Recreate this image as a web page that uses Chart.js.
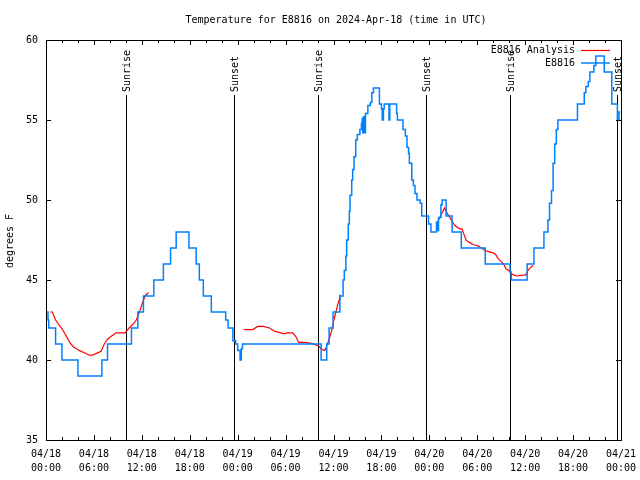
<!DOCTYPE html>
<html>
<head>
<meta charset="utf-8">
<script src="https://cdn.jsdelivr.net/npm/chart.js@4.4.1/dist/chart.umd.min.js"></script>
<style>
  html, body { margin: 0; padding: 0; background: #fff; }
  #wrap { width: 640px; height: 480px; }
</style>
</head>
<body>
<div id="wrap"><canvas id="myChart" width="640" height="480"></canvas></div>
<script>
// hours since 04/18 00:00 UTC
let obsHours=[0.1,0.25,0.35,1.2,2.0,4.0,7.0,7.7,10.7,11.5,12.2,13.5,14.7,15.6,16.3,17.9,18.8,19.2,19.7,20.7,
  22.5,22.8,23.4,23.75,24.0,24.3,24.45,24.6,34.45,35.15,35.45,35.95,36.8,37.2,37.35,37.55,37.65,37.85,37.98,
  38.07,38.28,38.4,38.57,38.78,38.98,39.3,39.5,39.6,39.65,39.75,39.85,40.0,40.3,40.6,40.8,41.0,41.75,42.0,
  42.1,42.25,42.35,42.95,43.05,43.9,44.0,44.7,45.0,45.2,45.4,45.5,45.8,46.0,46.2,46.45,46.85,47.05,47.9,48.2,
  48.9,49.05,49.15,49.45,49.6,50.1,50.85,52.0,55.0,58.1,58.25,60.25,61.1,62.35,62.85,63.05,63.3,63.5,63.7,
  63.9,64.1,66.55,67.4,67.6,67.9,68.1,68.6,68.85,69.9,70.85,71.55,71.75,71.9]
let obsTemps=[43,42.5,42,41,40,39,40,41,42,43,44,45,46,47,48,47,46,45,44,43,
  42.5,42,41.2,41,40.6,40,40.7,41,40,41,42,43,44,45,45.6,46.5,47.5,48.5,49.3,
  50.3,51.25,51.9,52.7,53.75,54.1,54.4,54.8,55.1,54.2,55.2,54.2,55.4,55.9,56.1,56.7,57,56,55.7,
  55,55.7,56,55,56,55.4,55,54.4,54,53.3,52.9,52.3,51.25,50.9,50.4,50,49.8,49,48.5,48,
  48.6,48.1,48.9,49.7,50,49,48,47,46,45.5,45,46,47,48,48.75,49.8,50.6,52.3,53.5,
  54.4,55,56,56.7,57.1,57.4,58,58.4,59,58,56,55,55.5,55.5]

let anaHours=[0.5,0.8,1.2,1.55,2.0,2.3,2.7,3.1,3.5,4.15,4.8,5.4,5.8,6.25,6.9,7.3,7.7,8.1,8.75,9.9,
  10.4,10.85,11.3,11.7,12.1,12.45,12.85,
  18,
  24.75,25.9,26.5,27.2,28.0,28.6,29.7,30.3,30.9,31.3,31.65,32.4,33.1,34.1,34.5,34.9,35.1,35.3,35.55,
  35.8,36.05,36.3,36.5,36.7,36.8,
  42,
  48.8,49.0,49.4,49.6,49.8,49.9,50.2,50.5,50.8,51.2,51.5,51.8,52.1,52.3,52.6,53.0,53.55,54.0,54.4,
  54.8,55.2,56.0,56.3,56.6,56.9,57.3,57.6,57.95,58.25,58.6,59.0,59.6,60.05,60.35,60.7,61.0]
let anaTemps=[43,43,42.5,42.25,41.95,41.7,41.35,41,40.8,40.6,40.45,40.3,40.3,40.4,40.55,41,41.3,41.45,41.7,41.7,
  42,42.2,42.5,43,43.6,44.05,44.2,
  null,
  41.9,41.9,42.1,42.1,42,41.8,41.65,41.7,41.7,41.45,41.1,41.1,41.05,40.9,40.67,40.6,40.8,41.1,41.45,
  41.9,42.5,43,43.4,43.75,44.1,
  null,
  48.6,48.6,49,49.2,49.4,49.5,49.2,48.96,48.7,48.4,48.3,48.2,48.2,47.9,47.5,47.35,47.2,47.15,47.05,
  46.9,46.8,46.7,46.6,46.35,46.2,46,45.7,45.6,45.4,45.3,45.25,45.3,45.3,45.6,45.8,45.9]

let sunriseHours=[10.0,34.05,58.1]
let sunsetHours=[23.5,47.6,71.5]

let xTickHours=[0,6,12,18,24,30,36,42,48,54,60,66,72]
let xTickDates=['04/18','04/18','04/18','04/18','04/19','04/19','04/19','04/19','04/20','04/20','04/20','04/20','04/21']
let xTickTimes=['00:00','06:00','12:00','18:00','00:00','06:00','12:00','18:00','00:00','06:00','12:00','18:00','00:00']
let yTicks=[35,40,45,50,55,60]

let titleText='Temperature for E8816 on 2024-Apr-18 (time in UTC)'
let yTitle='degrees F'
let anaName='E8816 Analysis'
let obsName='E8816'

const FONT='10px "DejaVu Sans Mono", monospace'
const BLUE='#0080ff'
const RED='#ff0000'

function pairs(xs, ys){
  let out=[]
  for(var i=0;i<xs.length;i++){
    out.push({x:xs[i], y:ys[i]})
  }
  return out
}

// gnuplot-ish frame, inward ticks, sun lines, legend, titles
const decorations = {
  id: 'decorations',
  beforeDatasetsDraw(chart){
    const c=chart.ctx
    const a=chart.chartArea
    const xs=chart.scales.x
    c.save()
    c.strokeStyle='#000'
    c.lineWidth=1
    c.fillStyle='#000'
    c.font=FONT
    const marks=[]
    sunriseHours.forEach(h=>marks.push([h,'Sunrise']))
    sunsetHours.forEach(h=>marks.push([h,'Sunset']))
    marks.forEach(m=>{
      const px=Math.round(xs.getPixelForValue(m[0]))+0.5
      c.beginPath()
      c.moveTo(px, a.top+55)
      c.lineTo(px, a.bottom)
      c.stroke()
      c.save()
      c.translate(px+1, a.top+52)
      c.rotate(-Math.PI/2)
      c.textAlign='left'
      c.textBaseline='middle'
      c.fillText(m[1],0,0)
      c.restore()
    })
    c.restore()
  },
  afterDraw(chart){
    const c=chart.ctx
    const a=chart.chartArea
    const xs=chart.scales.x
    const ys=chart.scales.y
    c.save()
    c.strokeStyle='#000'
    c.fillStyle='#000'
    c.lineWidth=1
    c.strokeRect(Math.round(a.left)+0.5, Math.round(a.top)+0.5, Math.round(a.right-a.left), Math.round(a.bottom-a.top))

    c.beginPath()
    for(var h=0;h<=72;h+=2){
      const px=Math.round(xs.getPixelForValue(h))+0.5
      const len=(h%6===0)?5:3
      c.moveTo(px,a.bottom); c.lineTo(px,a.bottom-len)
      c.moveTo(px,a.top); c.lineTo(px,a.top+len)
    }
    yTicks.forEach(v=>{
      const py=Math.round(ys.getPixelForValue(v))+0.5
      c.moveTo(a.left,py); c.lineTo(a.left+5,py)
      c.moveTo(a.right,py); c.lineTo(a.right-5,py)
    })
    c.stroke()

    c.font=FONT
    c.textBaseline='middle'
    c.textAlign='center'
    c.fillText(titleText, 336, 20)

    c.save()
    c.translate(10, 241)
    c.rotate(-Math.PI/2)
    c.fillText(yTitle,0,0)
    c.restore()

    // legend
    c.textAlign='right'
    c.fillText(anaName, 575, 50)
    c.fillText(obsName, 575, 63)
    c.strokeStyle=RED
    c.lineWidth=1.2
    c.beginPath(); c.moveTo(581,50.5); c.lineTo(610,50.5); c.stroke()
    c.strokeStyle=BLUE
    c.lineWidth=1.5
    c.beginPath(); c.moveTo(581,63); c.lineTo(610,63); c.stroke()
    c.restore()
  }
}

const ctx=document.getElementById('myChart')

let myChart=new Chart(ctx,{
  type:'line',
  data:{
    datasets:[{
      label:obsName,
      data:pairs(obsHours,obsTemps),
      borderColor:BLUE,
      borderWidth:1.5,
      pointRadius:0,
      stepped:'before',
      fill:false,
      order:1
    },{
      label:anaName,
      data:pairs(anaHours,anaTemps),
      borderColor:RED,
      borderWidth:1.2,
      pointRadius:0,
      spanGaps:false,
      fill:false,
      order:2
    }]
  },
  options:{
    responsive:false,
    animation:false,
    layout:{padding:{top:40,right:19,left:0,bottom:0}},
    plugins:{legend:{display:false},title:{display:false},tooltip:{enabled:false}},
    scales:{
      x:{
        type:'linear',
        min:0,
        max:72,
        grid:{display:false,drawTicks:false},
        border:{display:false},
        afterBuildTicks:s=>{ s.ticks=xTickHours.map(v=>({value:v})) },
        afterFit:s=>{ s.height=40; s.paddingLeft=0; s.paddingRight=0 },
        ticks:{
          autoSkip:false,
          maxRotation:0,
          padding:7,
          color:'#000',
          font:{family:'"DejaVu Sans Mono", monospace',size:10,lineHeight:1.4},
          callback:(v,i)=>[xTickDates[i],xTickTimes[i]]
        }
      },
      y:{
        min:35,
        max:60,
        grid:{display:false,drawTicks:false},
        border:{display:false},
        afterBuildTicks:s=>{ s.ticks=yTicks.map(v=>({value:v})) },
        afterFit:s=>{ s.width=46; s.paddingTop=0; s.paddingBottom=0 },
        ticks:{
          padding:8,
          color:'#000',
          font:{family:'"DejaVu Sans Mono", monospace',size:10}
        }
      }
    }
  },
  plugins:[decorations]
})
</script>
</body>
</html>
